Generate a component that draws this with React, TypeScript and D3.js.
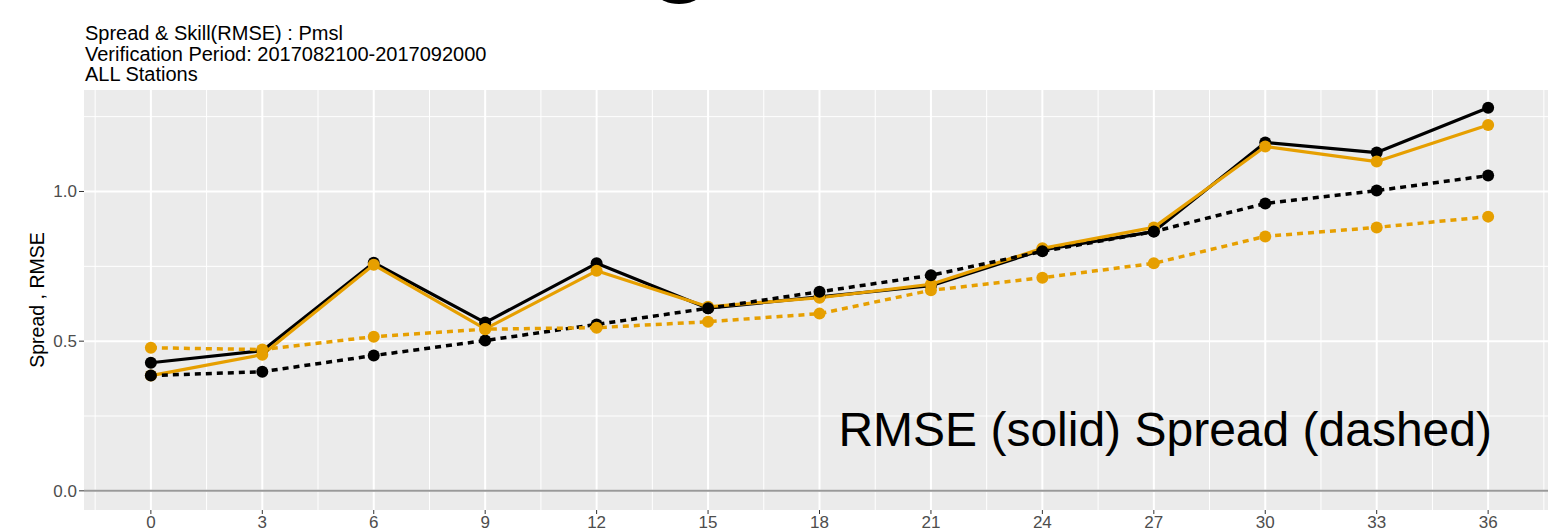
import React from "react";
import * as d3 from "d3";

const hours = [0, 3, 6, 9, 12, 15, 18, 21, 24, 27, 30, 33, 36];
const rmseBlack = [0.428, 0.468, 0.762, 0.562, 0.76, 0.61, 0.648, 0.685, 0.805, 0.866, 1.164, 1.13, 1.28];
const rmseOrange = [0.385, 0.455, 0.755, 0.541, 0.735, 0.615, 0.645, 0.69, 0.81, 0.88, 1.15, 1.1, 1.222];
const spreadBlack = [0.385, 0.398, 0.452, 0.502, 0.556, 0.61, 0.665, 0.72, 0.8, 0.866, 0.96, 1.003, 1.053];
const spreadOrange = [0.478, 0.472, 0.515, 0.54, 0.545, 0.565, 0.592, 0.67, 0.712, 0.76, 0.85, 0.88, 0.916];
const yTicks = [0, 0.5, 1.0];
const yMinor = [0.25, 0.75, 1.25];
const titleLines = [
  "Spread & Skill(RMSE) : Pmsl",
  "Verification Period: 2017082100-2017092000",
  "ALL Stations",
];
const yTitle = "Spread , RMSE";
const annotation = "RMSE (solid) Spread (dashed)";

const W = 1548;
const H = 531;
const ORANGE = "#E69F00";
const FONT = "'Liberation Sans', Arial, sans-serif";

export default function App() {
  const panel = { left: 84, right: 1555, top: 90, bottom: 510 };
  const x = d3.scaleLinear().domain([-1.8, 37.8]).range([panel.left, panel.right]);
  const y = d3.scaleLinear().domain([-0.064, 1.339]).range([panel.bottom, panel.top]);
  const xMinor = d3.range(-1.5, 38, 3);

  const line = d3
    .line<number>()
    .x((_, i) => x(hours[i]))
    .y((d) => y(d));

  const series = [
    { vals: rmseBlack, color: "#000", dashed: false },
    { vals: rmseOrange, color: ORANGE, dashed: false },
    { vals: spreadBlack, color: "#000", dashed: true },
    { vals: spreadOrange, color: ORANGE, dashed: true },
  ];

  return (
    <div style={{ position: "fixed", left: 0, top: 0 }}>
      <svg width={W} height={H} style={{ display: "block", background: "#fff" }}>
        <ellipse cx={679} cy={-5} rx={20} ry={9} fill="#000" />
        {titleLines.map((t, i) => (
          <text key={t} x={85} y={40 + i * 20.5} fontFamily={FONT} fontSize={20} fill="#000">
            {t}
          </text>
        ))}
        <rect x={panel.left} y={panel.top} width={panel.right - panel.left} height={panel.bottom - panel.top} fill="#EBEBEB" />
        {yMinor.map((v) => (
          <line key={"ym" + v} x1={panel.left} x2={panel.right} y1={y(v)} y2={y(v)} stroke="#fff" strokeWidth={1} />
        ))}
        {xMinor.map((v) => (
          <line key={"xm" + v} x1={x(v)} x2={x(v)} y1={panel.top} y2={panel.bottom} stroke="#fff" strokeWidth={1} />
        ))}
        {yTicks.map((v) => (
          <line key={"yM" + v} x1={panel.left} x2={panel.right} y1={y(v)} y2={y(v)} stroke="#fff" strokeWidth={2} />
        ))}
        {hours.map((v) => (
          <line key={"xM" + v} x1={x(v)} x2={x(v)} y1={panel.top} y2={panel.bottom} stroke="#fff" strokeWidth={2} />
        ))}
        <line x1={panel.left} x2={panel.right} y1={y(0)} y2={y(0)} stroke="#999" strokeWidth={2} />
        {series.map((s, i) => (
          <path
            key={"l" + i}
            d={line(s.vals) || ""}
            fill="none"
            stroke={s.color}
            strokeWidth={s.dashed ? 3.5 : 3.2}
            strokeDasharray={s.dashed ? "6 5" : undefined}
            strokeLinejoin="round"
          />
        ))}
        {series.map((s, i) =>
          s.vals.map((v, j) => (
            <circle key={"p" + i + "-" + j} cx={x(hours[j])} cy={y(v)} r={6} fill={s.color} />
          ))
        )}
        {yTicks.map((v) => (
          <g key={"yt" + v}>
            <line x1={79} x2={panel.left} y1={y(v)} y2={y(v)} stroke="#333" strokeWidth={1} />
            <text x={77} y={y(v) + 6} textAnchor="end" fontFamily={FONT} fontSize={17} fill="#4D4D4D">
              {d3.format(".1f")(v)}
            </text>
          </g>
        ))}
        {hours.map((v) => (
          <g key={"xt" + v}>
            <line x1={x(v)} x2={x(v)} y1={panel.bottom} y2={panel.bottom + 4} stroke="#333" strokeWidth={1} />
            <text x={x(v)} y={528} textAnchor="middle" fontFamily={FONT} fontSize={17} fill="#4D4D4D">
              {v}
            </text>
          </g>
        ))}
        <text
          transform={`translate(44,300) rotate(-90)`}
          textAnchor="middle"
          fontFamily={FONT}
          fontSize={19.5}
          fill="#000"
        >
          {yTitle}
        </text>
        <text x={1492} y={446} textAnchor="end" fontFamily={FONT} fontSize={48} fill="#000">
          {annotation}
        </text>
      </svg>
    </div>
  );
}
